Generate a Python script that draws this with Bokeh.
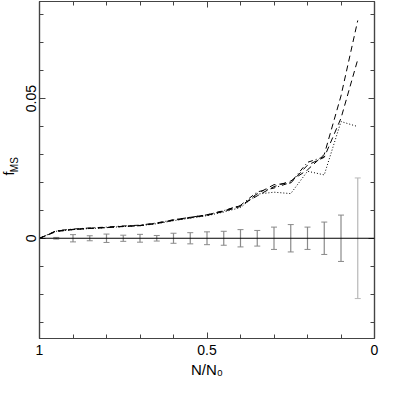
from math import pi
from bokeh.plotting import figure
from bokeh.layouts import row
from bokeh.models import (Range1d, FixedTicker, LinearAxis, Span, Whisker,
                          ColumnDataSource, TeeHead, Label)
from bokeh.embed import file_html
from bokeh.resources import INLINE

# ---------------- data ----------------
x_vals = [1.0, 0.95, 0.9, 0.85, 0.8, 0.75, 0.7, 0.65, 0.6, 0.55,
          0.5, 0.45, 0.4, 0.35, 0.3, 0.25, 0.2, 0.15, 0.1, 0.05]
f_dash_a = [0.0, 0.0026, 0.0032, 0.0036, 0.0039, 0.0043, 0.0046, 0.0054, 0.0066, 0.0075,
            0.0084, 0.0098, 0.0117, 0.0152, 0.0185, 0.0205, 0.0245, 0.0300, 0.0510, 0.0780]
f_dash_b = [0.0, 0.0024, 0.0031, 0.0035, 0.0038, 0.0042, 0.0045, 0.0053, 0.0064, 0.0073,
            0.0082, 0.0096, 0.0114, 0.0160, 0.0192, 0.0198, 0.0262, 0.0290, 0.0430, 0.0640]
f_dot = [0.0, 0.0025, 0.0031, 0.0035, 0.0038, 0.0042, 0.0045, 0.0052, 0.0063, 0.0072,
         0.0081, 0.0094, 0.0110, 0.0158, 0.0165, 0.0160, 0.0240, 0.0227, 0.0418, 0.0400]
x_dashdot = [1.0, 0.95, 0.9, 0.85, 0.8, 0.75, 0.7, 0.65, 0.6, 0.55,
             0.5, 0.45, 0.4, 0.35, 0.3, 0.25, 0.2, 0.15]
f_dashdot = [0.0, 0.0027, 0.0033, 0.0037, 0.0040, 0.0044, 0.0047, 0.0055, 0.0066, 0.0075,
             0.0084, 0.0099, 0.0118, 0.0166, 0.0180, 0.0200, 0.0272, 0.0292]

err_x = [0.95, 0.9, 0.85, 0.8, 0.75, 0.7, 0.65, 0.6, 0.55, 0.5,
         0.45, 0.4, 0.35, 0.3, 0.25, 0.2, 0.15, 0.1, 0.05]
err_center = [0.0] * 19
err_half = [0.0003, 0.0013, 0.0009, 0.0015, 0.0011, 0.0014, 0.0010, 0.0018, 0.0020, 0.0023,
            0.0025, 0.0031, 0.0028, 0.0040, 0.0049, 0.0040, 0.0058, 0.0083, 0.0216]

x_ticks = [0.0, 0.5, 1.0]
x_tick_labels = ["0", "0.5", "1"]
x_minor = [0.1, 0.2, 0.3, 0.4, 0.6, 0.7, 0.8, 0.9]
y_ticks = [0.0, 0.05]
y_tick_labels = ["0", "0.05"]
y_minor = [-0.03, -0.02, -0.01, 0.01, 0.02, 0.03, 0.04, 0.06, 0.07, 0.08]

x_label = "N/N\u2080"
y_label_main = "f"
y_label_sub = "MS"

x_lo, x_hi = 1.0, 0.0
y_lo, y_hi = -0.0359, 0.0848

FONT = "Liberation Sans"
AX_COL = "#444444"
H = 380
LBL_W = 20

# ---------------- main plot ----------------
p = figure(width=379 - LBL_W, height=H, output_backend="svg", toolbar_location=None, tools="",
           x_range=Range1d(x_lo, x_hi), y_range=Range1d(y_lo, y_hi),
           min_border_left=19, min_border_right=5, min_border_top=1, min_border_bottom=42,
           background_fill_color="white", border_fill_color="white")
p.grid.visible = False
p.outline_line_color = AX_COL
p.outline_line_width = 1.2

xt = FixedTicker(ticks=x_ticks, minor_ticks=x_minor)
yt = FixedTicker(ticks=y_ticks, minor_ticks=y_minor)

bottom = p.below[0]
left = p.left[0]
bottom.ticker = xt
left.ticker = yt
top = LinearAxis(ticker=xt)
right = LinearAxis(ticker=yt)
p.add_layout(top, "above")
p.add_layout(right, "right")

for ax in (bottom, left, top, right):
    ax.major_tick_in = 6
    ax.major_tick_out = 0
    ax.minor_tick_in = 4
    ax.minor_tick_out = 0
    ax.axis_line_color = AX_COL
    ax.axis_line_width = 1.2
    ax.major_tick_line_color = AX_COL
    ax.minor_tick_line_color = AX_COL
    ax.major_label_text_font = FONT
    ax.major_label_text_color = "black"
    ax.major_label_text_font_size = "14px"
    ax.axis_label_text_font = FONT
    ax.axis_label_text_font_style = "normal"
    ax.axis_label_text_color = "black"

bottom.major_label_standoff = 6
bottom.major_label_overrides = {t: s for t, s in zip(x_ticks, x_tick_labels)}
bottom.axis_label = x_label
bottom.axis_label_text_font_size = "15px"
bottom.axis_label_standoff = 3

left.major_label_standoff = 3
left.major_label_orientation = "parallel"
left.major_label_overrides = {t: s for t, s in zip(y_ticks, y_tick_labels)}
left.axis_label = None

for ax, ticks in ((top, x_ticks), (right, y_ticks)):
    ax.major_label_overrides = {t: "" for t in ticks}
    ax.major_label_text_font_size = "1px"
    ax.major_label_standoff = 0
    ax.axis_label = None

# zero line
p.add_layout(Span(location=0, dimension="width", line_color="black", line_width=1))

# error bars
upper = [c + e for c, e in zip(err_center, err_half)]
lower = [c - e for c, e in zip(err_center, err_half)]
src_a = ColumnDataSource(dict(x=err_x[:-1], upper=upper[:-1], lower=lower[:-1]))
src_b = ColumnDataSource(dict(x=err_x[-1:], upper=upper[-1:], lower=lower[-1:]))
for src, col in ((src_a, "#8a8a8a"), (src_b, "#b8b8b8")):
    p.add_layout(Whisker(base="x", upper="upper", lower="lower", source=src,
                         line_color=col, line_width=1.2,
                         upper_head=TeeHead(size=6, line_color=col, line_width=1),
                         lower_head=TeeHead(size=6, line_color=col, line_width=1)))

# curves
p.line(x_vals, f_dash_a, line_color="black", line_width=1, line_dash="6 4")
p.line(x_vals, f_dash_b, line_color="black", line_width=1, line_dash="6 4")
p.line(x_vals, f_dot, line_color="black", line_width=1, line_dash="1 2")
p.line(x_dashdot, f_dashdot, line_color="black", line_width=1, line_dash="5 3 1 3")

# ---------------- y-axis title strip (rotated f with subscript MS) ----------------
lab = figure(width=LBL_W, height=H, output_backend="svg", toolbar_location=None, tools="",
             x_range=Range1d(0, LBL_W), y_range=Range1d(0, H),
             min_border_left=0, min_border_right=0, min_border_top=0, min_border_bottom=0,
             background_fill_color="white", border_fill_color="white")
lab.axis.visible = False
lab.grid.visible = False
lab.outline_line_color = None
lab.add_layout(Label(x=8, y=H - 194, text=y_label_main, angle=pi / 2,
                     text_font=FONT, text_font_size="14px", text_align="center",
                     text_baseline="middle", text_color="black"))
lab.add_layout(Label(x=14, y=H - 184, text=y_label_sub, angle=pi / 2,
                     text_font=FONT, text_font_size="10px", text_align="center",
                     text_baseline="middle", text_color="black"))

layout = row(lab, p, spacing=0)
open("out.html", "w").write(file_html(layout, INLINE))
